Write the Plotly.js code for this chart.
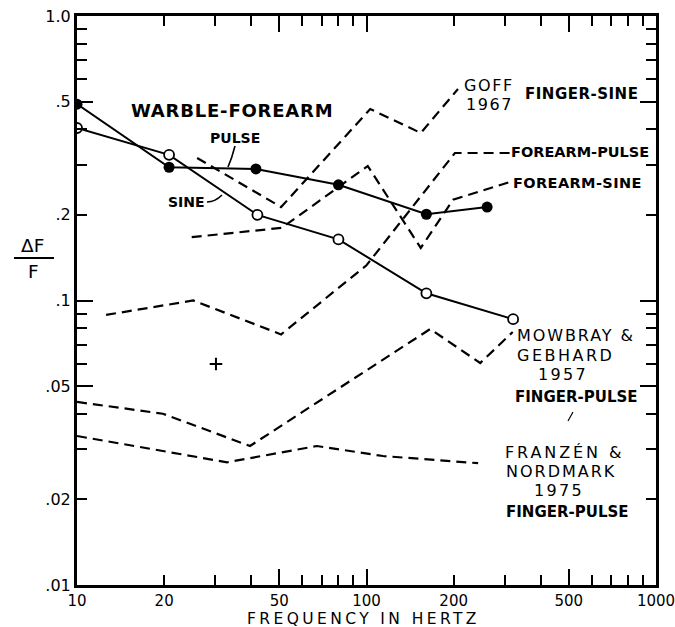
<!DOCTYPE html>
<html><head><meta charset="utf-8">
<script src="https://cdn.plot.ly/plotly-3.0.1.min.js"></script>
<style>html,body{margin:0;padding:0;background:#fff}</style>
</head><body><div id="chart" style="width:675px;height:627px"></div>
<script>
// ---- data ----
const pulseFreq = [10, 20.8, 41.5, 80, 161, 261];
const pulseDF   = [0.49, 0.294, 0.29, 0.255, 0.201, 0.213];
const sineFreq  = [10, 20.8, 42, 80, 161, 321];
const sineDF    = [0.404, 0.325, 0.2, 0.164, 0.106, 0.086];
const goffFreq  = [26, 50.7, 103, 154, 207];
const goffDF    = [0.317, 0.213, 0.471, 0.388, 0.554];
const fpFreq    = [12.6, 25.2, 50.7, 100, 202, 313];
const fpDF      = [0.089, 0.1, 0.076, 0.133, 0.33, 0.33];
const fsFreq    = [24.9, 51, 101, 154, 199, 313];
const fsDF      = [0.167, 0.18, 0.297, 0.153, 0.226, 0.261];
const mowFreq   = [10, 19.8, 39.6, 166, 247, 320];
const mowDF     = [0.044, 0.040, 0.0308, 0.0794, 0.0603, 0.0775];
const franFreq  = [10, 33, 67.4, 114, 243];
const franDF    = [0.0334, 0.027, 0.0308, 0.0284, 0.0268];
const crossFreq = [30.2];
const crossDF   = [0.0598];

const xTickVals = [10,20,30,40,50,60,70,80,90,100,200,300,400,500,600,700,800,900,1000];
const xTickText = ['10','20','','','50','','','','','100','200','','','500','','','','','1000'];
const xLongTicks = [10,50,100,500,1000];
const yTickVals = [0.01,0.02,0.03,0.04,0.05,0.06,0.07,0.08,0.09,0.1,0.2,0.3,0.4,0.5,0.6,0.7,0.8,0.9,1];
const yTickText = ['.01','.02','','','.05','','','','','.1','.2','','','.5','','','','','1.0'];
const yLongTicks = [0.01,0.05,0.1,0.5,1];

// ---- layout helpers (pixel -> paper) ----
const L=77, R=656, T=16, B=585;
const px = x => (x-L)/(R-L);
const py = y => (B-y)/(B-T);
const FONT = 'DejaVu Sans';
const dashPat = '10px,6px';

function dashed(x, y){
  return {x, y, mode:'lines', type:'scatter', hoverinfo:'skip',
    line:{color:'black', width:2.2, dash:dashPat}};
}
const traces = [
  dashed(goffFreq, goffDF),
  dashed(fpFreq, fpDF),
  dashed(fsFreq, fsDF),
  dashed(mowFreq, mowDF),
  dashed(franFreq, franDF),
  {x:pulseFreq, y:pulseDF, type:'scatter', mode:'lines+markers',
   line:{color:'black', width:2}, marker:{color:'black', size:11}},
  {x:sineFreq, y:sineDF, type:'scatter', mode:'lines+markers',
   line:{color:'black', width:2}, marker:{color:'white', size:10, line:{color:'black', width:1.8}}},
  {x:crossFreq, y:crossDF, type:'scatter', mode:'markers', xaxis:'x2', yaxis:'y2',
   marker:{symbol:'cross-thin', size:9, line:{color:'black', width:2}}}
];

function txt(t, x, y, size, bold, anchor, ls){
  let s = t;
  if (ls) s = '<span style="letter-spacing:'+ls+'px">'+s+'</span>';
  if (bold) s = '<b>'+s+'</b>';
  return {text:s, xref:'paper', yref:'paper', x:px(x), y:py(y),
    xanchor:anchor||'center', yanchor:'middle', showarrow:false,
    font:{family:FONT, size:size, color:'black'}};
}

const annotations = [
  txt('WARBLE-FOREARM', 232, 110, 18, true, 'center', 0.8),
  txt('PULSE', 235, 138, 14, true),
  txt('SINE', 186, 202, 14, true),
  txt('GOFF', 489, 85, 16, false, 'center', 1.6),
  txt('1967', 489, 104, 16, false, 'center', 1.6),
  txt('FINGER-SINE', 581.5, 94, 15, true, 'center', 0.5),
  txt('FOREARM-PULSE', 580, 152, 14.5, true),
  txt('FOREARM-SINE', 577.5, 183, 14.5, true, 'center', 0.4),
  txt('MOWBRAY &amp;', 576, 336, 16, false, 'center', 1.9),
  txt('GEBHARD', 565, 355, 16, false, 'center', 2.5),
  txt('1957', 563, 374, 16, false, 'center', 2.3),
  txt('FINGER-PULSE', 576, 397, 15, true),
  txt('FRANZÉN &amp;', 564, 452, 16, false, 'center', 2.9),
  txt('NORDMARK', 561, 471, 16, false, 'center', 2),
  txt('1975', 559, 490, 16, false, 'center', 2.3),
  txt('FINGER-PULSE', 567.5, 512, 15, true),
  txt('ΔF', 32, 246, 18.5, false),
  txt('F', 33, 271, 18.5, false),
  txt('FREQUENCY IN HERTZ', 363, 619, 15.5, false, 'center', 3.4)
];

const shapes = [
  {type:'line', xref:'paper', yref:'paper', x0:px(14), x1:px(54), y0:py(258), y1:py(258),
   line:{color:'black', width:2}},
  {type:'path', xref:'paper', yref:'paper',
   path:'M'+px(235)+','+py(146)+' Q'+px(232)+','+py(158)+' '+px(228)+','+py(167),
   line:{color:'black', width:1.6}},
  {type:'path', xref:'paper', yref:'paper',
   path:'M'+px(207)+','+py(202)+' Q'+px(215)+','+py(202)+' '+px(222)+','+py(195),
   line:{color:'black', width:1.6}},
  {type:'line', xref:'paper', yref:'paper', x0:px(568), x1:px(573), y0:py(421), y1:py(412),
   line:{color:'black', width:1.2}}
];

const axBase = {type:'log', showgrid:false, zeroline:false, ticks:'inside',
  tickcolor:'black', tickwidth:2, color:'black'};

const layout = {
  width:675, height:627, showlegend:false,
  paper_bgcolor:'white', plot_bgcolor:'white',
  margin:{l:L, r:675-R, t:T, b:627-B, pad:0},
  xaxis: Object.assign({}, axBase, {range:[1,3], tickvals:xTickVals, ticktext:xTickText,
    ticklen:10, showline:true, linewidth:3, linecolor:'black', mirror:'ticks',
    ticklabeloverflow:'allow',
    tickfont:{family:FONT, size:15, color:'black'}}),
  yaxis: Object.assign({}, axBase, {range:[-2,0], tickvals:yTickVals, ticktext:yTickText,
    ticklen:10, showline:true, linewidth:3, linecolor:'black', mirror:'ticks',
    ticklabeloverflow:'allow',
    tickfont:{family:FONT, size:16, color:'black'}}),
  xaxis2: Object.assign({}, axBase, {range:[1,3], overlaying:'x', anchor:'y2',
    tickvals:xLongTicks, ticklen:16, showticklabels:false, showline:false, mirror:'ticks'}),
  yaxis2: Object.assign({}, axBase, {range:[-2,0], overlaying:'y', anchor:'x2', side:'left',
    tickvals:yLongTicks, ticklen:16, showticklabels:false, showline:false, mirror:'ticks'}),
  annotations, shapes
};

Plotly.newPlot('chart', traces, layout, {staticPlot:true, displayModeBar:false});
</script></body></html>
